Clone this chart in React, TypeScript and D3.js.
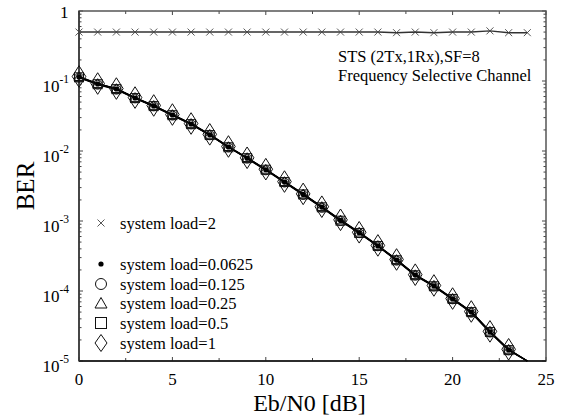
import React from "react";
import * as d3 from "d3";

const ebn0 = [0, 1, 2, 3, 4, 5, 6, 7, 8, 9, 10, 11, 12, 13, 14, 15, 16, 17, 18, 19, 20, 21, 22, 23, 24];
const load2 = [0.5, 0.5, 0.5, 0.5, 0.5, 0.5, 0.5, 0.5, 0.5, 0.5, 0.5, 0.5, 0.5, 0.5, 0.5, 0.5, 0.5, 0.49, 0.5, 0.49, 0.5, 0.5, 0.52, 0.49, 0.49];
const load00625 = [0.114, 0.0906, 0.0769, 0.0572, 0.044, 0.0327, 0.0243, 0.017, 0.0114, 0.0079, 0.0054, 0.0036, 0.0024, 0.00158, 0.00102, 0.00068, 0.00044, 0.000277, 0.000169, 0.000118, 0.000077, 0.00005, 0.000026, 0.0000144, 0.00001];
const load0125 = [0.112, 0.089, 0.0755, 0.0565, 0.0435, 0.0322, 0.024, 0.0168, 0.0113, 0.0078, 0.0053, 0.00355, 0.00236, 0.00155, 0.001, 0.00067, 0.000435, 0.000273, 0.000166, 0.000116, 0.000076, 0.000049, 0.0000255, 0.0000142, 0.00001];
const load025 = [0.115, 0.0915, 0.0775, 0.0578, 0.0445, 0.033, 0.0246, 0.0172, 0.0115, 0.008, 0.00545, 0.00364, 0.00242, 0.0016, 0.00103, 0.00069, 0.000445, 0.00028, 0.00017, 0.00012, 0.000078, 0.0000505, 0.0000265, 0.0000146, 0.00001];
const load05 = [0.113, 0.09, 0.0765, 0.057, 0.0438, 0.0325, 0.0242, 0.0169, 0.0113, 0.0079, 0.0054, 0.0036, 0.0024, 0.00157, 0.00101, 0.000675, 0.00044, 0.000275, 0.000168, 0.000117, 0.000077, 0.00005, 0.000026, 0.0000143, 0.00001];
const load1 = [0.116, 0.092, 0.078, 0.058, 0.0447, 0.0332, 0.0247, 0.0173, 0.0116, 0.008, 0.0055, 0.00366, 0.00244, 0.0016, 0.00104, 0.00069, 0.000448, 0.000282, 0.000171, 0.00012, 0.000078, 0.000051, 0.0000265, 0.0000147, 0.00001];

const xMajorTicks = [0, 5, 10, 15, 20, 25];
const xMinorTicks = [2.5, 7.5, 12.5, 17.5, 22.5];
const yDecades = [0, -1, -2, -3, -4, -5];

const legendLabels = [
  "system load=2",
  "system load=0.0625",
  "system load=0.125",
  "system load=0.25",
  "system load=0.5",
  "system load=1",
];
const annotation = ["STS (2Tx,1Rx),SF=8", "Frequency Selective Channel"];

const W = 569;
const H = 416;
const L = 79, R = 546, T = 11, B = 361;
const FONT = "'Liberation Serif', 'DejaVu Serif', serif";

type Shape = "cross" | "dot" | "circle" | "triangle" | "square" | "diamond";

function Marker({ shape, x, y, big }: { shape: Shape; x: number; y: number; big?: boolean }) {
  const st = "#111";
  switch (shape) {
    case "cross": {
      const s = 3.5;
      return (
        <path d={`M${x - s},${y - s}L${x + s},${y + s}M${x - s},${y + s}L${x + s},${y - s}`} stroke="#444" strokeWidth={0.9} fill="none" />
      );
    }
    case "dot":
      return <circle cx={x} cy={y} r={2.6} fill="#000" />;
    case "circle":
      return <circle cx={x} cy={y} r={big ? 5.5 : 4.5} fill="none" stroke={st} strokeWidth={1} />;
    case "triangle": {
      const s = big ? 6 : 5;
      return <path d={`M${x},${y - s}L${x + s},${y + s * 0.75}L${x - s},${y + s * 0.75}Z`} fill="none" stroke={st} strokeWidth={1} />;
    }
    case "square": {
      const s = big ? 5.5 : 4.5;
      return <rect x={x - s} y={y - s} width={2 * s} height={2 * s} fill="none" stroke={st} strokeWidth={1} />;
    }
    case "diamond": {
      const w = big ? 6 : 6.8;
      const h = big ? 8.5 : 10.8;
      return <path d={`M${x},${y - h}L${x + w},${y}L${x},${y + h}L${x - w},${y}Z`} fill="none" stroke={st} strokeWidth={1} />;
    }
  }
}

export default function App() {
  const x = d3.scaleLinear().domain([0, 25]).range([L, R]);
  const y = d3.scaleLog().domain([1e-5, 1]).range([B, T]);

  const line = d3
    .line<number>()
    .x((_, i) => x(ebn0[i]))
    .y((d) => y(d));

  const berSeries: { shape: Shape; data: number[] }[] = [
    { shape: "diamond", data: load1 },
    { shape: "square", data: load05 },
    { shape: "triangle", data: load025 },
    { shape: "circle", data: load0125 },
    { shape: "dot", data: load00625 },
  ];

  const minorY: number[] = [];
  for (let e = -5; e < 0; e++) {
    for (let m = 2; m <= 9; m++) minorY.push(m * Math.pow(10, e));
  }

  const legendShapes: Shape[] = ["cross", "dot", "circle", "triangle", "square", "diamond"];
  const legendY = [223, 264, 284, 303.5, 323, 343];

  return (
    <svg width={W} height={H} style={{ position: "absolute", left: 0, top: 0, background: "#fff" }} fontFamily={FONT}>
      <rect x={0} y={0} width={W} height={H} fill="#fff" />
      {/* ticks */}
      <g stroke="#444" strokeWidth={1}>
        {xMajorTicks.map((t) => (
          <g key={"xm" + t}>
            <line x1={x(t)} x2={x(t)} y1={B} y2={B - 4} />
            <line x1={x(t)} x2={x(t)} y1={T} y2={T + 4} />
          </g>
        ))}
        {xMinorTicks.map((t) => (
          <g key={"xn" + t}>
            <line x1={x(t)} x2={x(t)} y1={B} y2={B - 3} />
            <line x1={x(t)} x2={x(t)} y1={T} y2={T + 3} />
          </g>
        ))}
        {yDecades.map((e) => (
          <g key={"ym" + e}>
            <line x1={L} x2={L + 4} y1={y(Math.pow(10, e))} y2={y(Math.pow(10, e))} />
            <line x1={R} x2={R - 4} y1={y(Math.pow(10, e))} y2={y(Math.pow(10, e))} />
          </g>
        ))}
        {minorY.map((v, i) => (
          <g key={"yn" + i}>
            <line x1={L} x2={L + 2.5} y1={y(v)} y2={y(v)} />
            <line x1={R} x2={R - 2.5} y1={y(v)} y2={y(v)} />
          </g>
        ))}
      </g>
      {/* frame */}
      <rect x={L} y={T} width={R - L} height={B - T} fill="none" stroke="#555" strokeWidth={1.5} />
      <line x1={L} x2={R} y1={B} y2={B} stroke="#111" strokeWidth={1.5} />
      <line x1={L} x2={L} y1={T} y2={B} stroke="#333" strokeWidth={1.5} />

      {/* load=2 */}
      <path d={line(load2) || ""} fill="none" stroke="#333" strokeWidth={1.4} />
      {load2.map((v, i) => (
        <Marker key={"c" + i} shape="cross" x={x(ebn0[i])} y={y(v)} />
      ))}

      {/* BER curves */}
      {berSeries.map((s, k) => (
        <path key={"l" + k} d={line(s.data) || ""} fill="none" stroke="#000" strokeWidth={1.3} />
      ))}
      {berSeries.map((s, k) => (
        <g key={"m" + k}>
          {s.data.slice(0, 24).map((v, i) => (
            <Marker key={i} shape={s.shape} x={x(ebn0[i])} y={y(v)} />
          ))}
        </g>
      ))}

      {/* tick labels */}
      {xMajorTicks.map((t) => (
        <text key={"xl" + t} x={x(t)} y={385} fontSize={17} textAnchor="middle" fill="#000">
          {t}
        </text>
      ))}
      {yDecades.map((e) =>
        e === 0 ? (
          <text key="yl0" x={68.5} y={y(1) + 7} fontSize={17} textAnchor="end" fill="#000">
            1
          </text>
        ) : (
          <text key={"yl" + e} x={69} y={y(Math.pow(10, e)) + 11} fontSize={17} textAnchor="end" fill="#000">
            10
            <tspan fontSize={11.5} dy={-9}>
              {String(e)}
            </tspan>
          </text>
        )
      )}

      {/* axis titles */}
      <text x={(L + R) / 2 - 3} y={411} fontSize={24} textAnchor="middle" fill="#000">
        Eb/N0 [dB]
      </text>
      <text transform={`translate(34,${(T + B) / 2}) rotate(-90)`} fontSize={25} textAnchor="middle" fill="#000">
        BER
      </text>

      {/* annotation */}
      {annotation.map((s, i) => (
        <text key={"an" + i} x={338} y={62 + i * 19} fontSize={16.5} fill="#000">
          {s}
        </text>
      ))}

      {/* legend */}
      {legendLabels.map((lab, i) => (
        <g key={"lg" + i}>
          <Marker shape={legendShapes[i]} x={101} y={legendY[i]} big />
          <text x={120} y={legendY[i] + 5.5} fontSize={16.5} fill="#000">
            {lab}
          </text>
        </g>
      ))}
    </svg>
  );
}
